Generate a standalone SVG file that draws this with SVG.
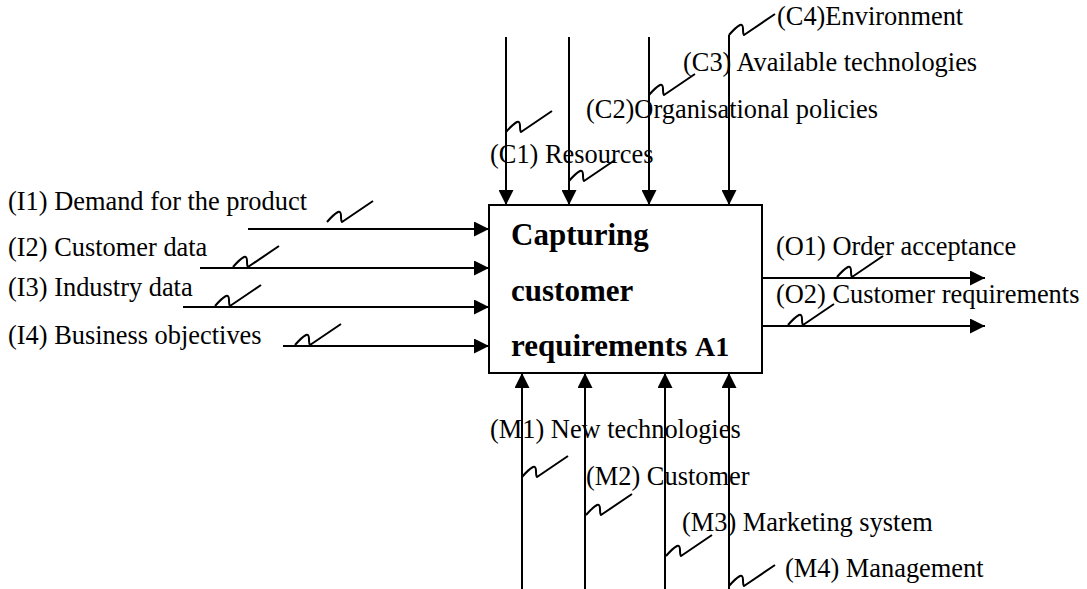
<svg xmlns="http://www.w3.org/2000/svg" xmlns:xlink="http://www.w3.org/1999/xlink" width="1087" height="589" viewBox="0 0 1087 589">
<style>
.t{font-family:"Liberation Serif","Times New Roman",serif;font-size:26.4px;fill:#000}
.b{font-family:"Liberation Serif","Times New Roman",serif;font-size:31px;font-weight:bold;fill:#000}
.ln{stroke:#000;stroke-width:2;fill:none}
.sq{stroke:#000;stroke-width:2;fill:none;stroke-linejoin:round}
</style>
<defs>
<marker id="ah" markerWidth="15" markerHeight="15" refX="15" refY="7.5" orient="auto" markerUnits="userSpaceOnUse"><path d="M0,0 L15,7.5 L0,15 z" fill="#000"/></marker>
<path id="sq" class="sq" d="M0,0 Q7,-8 11,-10 Q14,-11 14,-6 Q14,-1 15,0 L46,-21"/>
</defs>
<rect width="1087" height="589" fill="#fff"/>
<g id="node-A1">
<rect x="489" y="205" width="273" height="168" fill="#fff" stroke="#000" stroke-width="2"/>
<text class="b" x="511" y="245">Capturing</text>
<text class="b" x="511" y="301">customer</text>
<text class="b" x="511" y="356">requirements <tspan font-size="28">A1</tspan></text>
</g>
<g id="connectors">
<line class="ln" x1="506" y1="37" x2="506" y2="205" marker-end="url(#ah)"/>
<line class="ln" x1="569" y1="37" x2="569" y2="205" marker-end="url(#ah)"/>
<line class="ln" x1="649" y1="37" x2="649" y2="205" marker-end="url(#ah)"/>
<line class="ln" x1="729" y1="35" x2="729" y2="205" marker-end="url(#ah)"/>
<line class="ln" x1="248" y1="229" x2="489" y2="229" marker-end="url(#ah)"/>
<line class="ln" x1="200" y1="268" x2="489" y2="268" marker-end="url(#ah)"/>
<line class="ln" x1="183" y1="307" x2="489" y2="307" marker-end="url(#ah)"/>
<line class="ln" x1="283" y1="346" x2="489" y2="346" marker-end="url(#ah)"/>
<line class="ln" x1="762" y1="278" x2="985" y2="278" marker-end="url(#ah)"/>
<line class="ln" x1="762" y1="326" x2="985" y2="326" marker-end="url(#ah)"/>
<line class="ln" x1="522" y1="589" x2="522" y2="373" marker-end="url(#ah)"/>
<line class="ln" x1="585" y1="589" x2="585" y2="373" marker-end="url(#ah)"/>
<line class="ln" x1="665" y1="589" x2="665" y2="373" marker-end="url(#ah)"/>
<line class="ln" x1="729" y1="589" x2="729" y2="373" marker-end="url(#ah)"/>
<use xlink:href="#sq" x="506" y="132"/>
<use xlink:href="#sq" x="569" y="181"/>
<use xlink:href="#sq" x="649" y="95"/>
<use xlink:href="#sq" x="729" y="35"/>
<use xlink:href="#sq" x="327" y="222"/>
<use xlink:href="#sq" x="233" y="267"/>
<use xlink:href="#sq" x="215" y="306"/>
<use xlink:href="#sq" x="295" y="345"/>
<use xlink:href="#sq" x="837" y="277"/>
<use xlink:href="#sq" x="788" y="325"/>
<use xlink:href="#sq" x="522" y="477"/>
<use xlink:href="#sq" x="586" y="515"/>
<use xlink:href="#sq" x="666" y="556"/>
<use xlink:href="#sq" x="729" y="586"/>
</g>
<g id="labels">
<text class="t" x="777" y="25">(C4)Environment</text>
<text class="t" x="683" y="71">(C3) Available technologies</text>
<text class="t" x="586" y="118">(C2)Organisational policies</text>
<text class="t" x="490" y="163">(C1) Resources</text>
<text class="t" x="8" y="210">(I1) Demand for the product</text>
<text class="t" x="8" y="256">(I2) Customer data</text>
<text class="t" x="8" y="296">(I3) Industry data</text>
<text class="t" x="8" y="344">(I4) Business objectives</text>
<text class="t" x="776" y="255">(O1) Order acceptance</text>
<text class="t" x="776" y="303">(O2) Customer requirements</text>
<text class="t" x="490" y="438">(M1) New technologies</text>
<text class="t" x="586" y="485">(M2) Customer</text>
<text class="t" x="682" y="531">(M3) Marketing system</text>
<text class="t" x="785" y="577">(M4) Management</text>
</g>
</svg>
